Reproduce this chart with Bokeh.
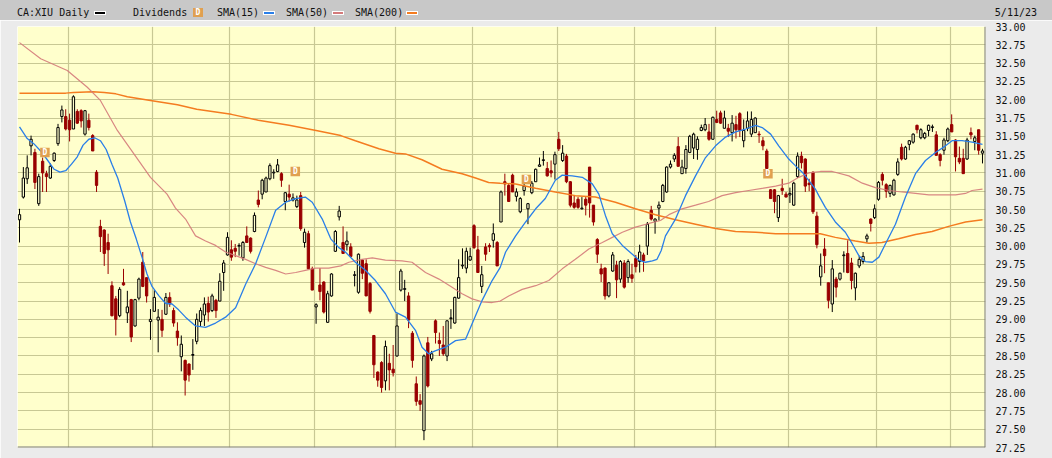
from bokeh.plotting import figure
from bokeh.models import Range1d, FixedTicker, PrintfTickFormatter, Div, Span
from bokeh.layouts import column
from bokeh.core.properties import value
from bokeh.embed import file_html
from bokeh.resources import INLINE

# ---------------- data (CA:XIU daily, 2022-05-12 .. 2023-05-11) ----------------
opens = [30.36, 30.67, 30.92, 31.37, 31.28, 30.58, 31.16, 30.99, 30.93, 31.17,
         31.40, 31.77, 31.77, 31.72, 31.60, 31.84, 31.85, 31.53, 31.72, 31.51,
         31.01, 30.27, 30.22, 30.05, 29.46, 29.28, 29.05, 29.50, 29.09, 29.27,
         28.91, 29.29, 29.78, 29.57, 28.97, 29.11, 28.99, 29.00, 29.07, 29.30,
         29.12, 28.84, 28.49, 28.44, 28.39, 28.51, 28.70, 28.97, 29.06, 29.22,
         29.12, 29.26, 29.25, 29.64, 29.88, 29.95, 29.97, 30.00, 29.84, 30.14,
         30.11, 30.20, 30.63, 30.71, 30.74, 30.92, 31.00, 31.02, 30.99, 30.61,
         30.71, 30.63, 30.54, 30.69, 30.05, 30.17, 29.69, 29.17, 29.47, 29.51,
         28.96, 29.32, 29.93, 30.40, 30.05, 30.02, 29.99, 29.60, 29.37, 29.81,
         29.76, 29.49, 28.78, 28.28, 28.41, 28.16, 28.40, 28.32, 28.50, 29.40,
         29.41, 29.32, 28.81, 28.12, 27.89, 27.48, 28.68, 28.46, 28.98, 28.71,
         28.65, 28.50, 29.01, 28.95, 29.29, 29.73, 29.70, 29.81, 30.28, 29.95,
         29.45, 29.99, 30.01, 30.08, 30.05, 30.33, 30.88, 30.83, 30.97, 30.68,
         30.47, 30.76, 30.51, 30.73, 30.88, 31.09, 31.17, 31.06, 31.03, 31.12,
         31.46, 31.17, 31.23, 30.88, 30.59, 30.64, 30.51, 30.64, 31.08, 30.56,
         30.09, 29.69, 29.70, 29.32, 29.66, 29.74, 29.55, 29.77, 29.57, 29.61,
         29.83, 29.79, 29.88, 30.00, 30.49, 30.34, 30.52, 30.61, 30.74, 31.08,
         31.19, 31.36, 30.99, 31.06, 31.28, 31.34, 31.32, 31.58, 31.59, 31.56,
         31.46, 31.73, 31.82, 31.61, 31.61, 31.55, 31.66, 31.81, 31.44, 31.61,
         31.53, 31.55, 31.53, 31.44, 31.30, 30.77, 30.77, 30.39, 30.79, 30.71,
         30.70, 30.56, 30.95, 31.23, 31.19, 30.86, 31.01, 30.41, 29.58, 29.96,
         29.50, 29.21, 29.55, 29.55, 29.87, 29.90, 29.77, 29.43, 29.73, 29.79,
         30.10, 30.37, 30.39, 30.64, 30.98, 30.84, 30.72, 30.70, 30.98, 31.35,
         31.19, 31.39, 31.42, 31.65, 31.48, 31.48, 31.58, 31.62, 31.52, 31.25,
         31.31, 31.44, 31.66, 31.45, 31.20, 31.20, 31.19, 31.55, 31.43, 31.59,
         31.27]
highs = [30.51, 31.08, 31.24, 31.51, 31.33, 30.99, 31.21, 31.03, 31.13, 31.28,
         31.67, 31.92, 31.87, 31.81, 32.06, 31.87, 31.87, 31.86, 31.81, 31.53,
         31.04, 30.36, 30.23, 30.17, 29.52, 29.32, 29.44, 29.69, 29.39, 29.28,
         29.28, 29.57, 29.92, 29.57, 29.14, 29.40, 29.14, 29.13, 29.36, 29.37,
         29.16, 28.96, 28.78, 28.45, 28.40, 28.73, 29.08, 29.16, 29.30, 29.31,
         29.35, 29.28, 29.63, 29.81, 30.19, 30.08, 30.03, 30.04, 30.07, 30.27,
         30.12, 30.46, 30.76, 30.92, 30.95, 31.13, 31.05, 31.19, 31.01, 30.74,
         30.84, 30.72, 30.69, 30.74, 30.24, 30.21, 29.72, 29.22, 29.70, 29.52,
         29.39, 29.63, 30.22, 30.55, 30.27, 30.20, 30.04, 29.66, 29.90, 29.82,
         29.82, 29.51, 28.78, 28.29, 28.43, 28.71, 28.53, 28.65, 29.08, 29.69,
         29.54, 29.37, 28.84, 28.22, 27.98, 28.52, 28.76, 28.57, 29.00, 28.82,
         28.91, 28.99, 29.14, 29.31, 29.82, 29.97, 29.98, 29.98, 30.30, 30.14,
         29.73, 30.04, 30.04, 30.31, 30.07, 30.76, 30.99, 30.86, 30.99, 30.79,
         30.67, 30.85, 30.59, 30.89, 31.06, 31.21, 31.30, 31.15, 31.17, 31.29,
         31.56, 31.38, 31.26, 30.89, 30.69, 30.67, 30.67, 30.67, 31.08, 30.56,
         30.11, 29.76, 29.71, 29.51, 29.92, 29.80, 29.81, 29.81, 29.82, 29.76,
         29.88, 30.02, 29.91, 30.33, 30.55, 30.38, 30.61, 30.85, 31.09, 31.17,
         31.27, 31.49, 31.18, 31.38, 31.52, 31.55, 31.50, 31.66, 31.75, 31.67,
         31.77, 31.85, 31.85, 31.85, 31.67, 31.79, 31.78, 31.83, 31.73, 31.84,
         31.84, 31.76, 31.57, 31.49, 31.33, 30.78, 30.78, 30.70, 30.92, 30.74,
         30.80, 30.88, 31.28, 31.29, 31.20, 30.92, 31.02, 30.47, 29.90, 30.11,
         29.50, 29.81, 29.58, 29.64, 29.93, 30.08, 29.84, 29.64, 29.87, 29.92,
         30.17, 30.38, 30.57, 30.89, 31.01, 30.86, 30.84, 30.92, 31.20, 31.40,
         31.37, 31.45, 31.54, 31.66, 31.61, 31.56, 31.66, 31.66, 31.57, 31.27,
         31.48, 31.62, 31.80, 31.46, 31.36, 31.33, 31.48, 31.62, 31.51, 31.59,
         31.33]
lows = [30.05, 30.65, 30.85, 31.24, 30.78, 30.55, 30.74, 30.74, 30.92, 31.15,
        31.37, 31.69, 31.58, 31.43, 31.60, 31.67, 31.62, 31.51, 31.58, 31.30,
        30.74, 29.92, 29.73, 29.62, 29.04, 28.78, 29.03, 29.46, 28.95, 28.69,
        28.90, 29.26, 29.44, 29.23, 28.72, 29.11, 28.55, 28.76, 29.06, 29.17,
        28.90, 28.64, 28.29, 27.96, 28.15, 28.31, 28.66, 28.91, 28.91, 28.97,
        29.10, 29.02, 29.25, 29.39, 29.87, 29.80, 29.85, 29.87, 29.80, 30.05,
        29.90, 30.19, 30.53, 30.64, 30.74, 30.90, 30.92, 31.01, 30.81, 30.49,
        30.61, 30.61, 30.52, 30.21, 29.98, 29.69, 29.40, 28.94, 29.26, 29.08,
        28.95, 29.31, 29.92, 30.35, 29.90, 29.94, 29.85, 29.45, 29.35, 29.55,
        29.32, 29.08, 28.20, 28.08, 28.00, 28.03, 28.03, 28.22, 28.49, 29.38,
        29.25, 28.88, 28.34, 27.82, 27.75, 27.35, 28.07, 28.43, 28.67, 28.50,
        28.50, 28.43, 28.87, 28.94, 29.28, 29.69, 29.63, 29.80, 29.96, 29.64,
        29.36, 29.80, 29.92, 29.98, 29.73, 30.33, 30.69, 30.61, 30.74, 30.61,
        30.45, 30.69, 30.30, 30.71, 30.88, 31.09, 31.10, 30.95, 30.94, 30.91,
        31.30, 31.15, 30.86, 30.53, 30.51, 30.51, 30.50, 30.42, 30.39, 30.28,
        29.77, 29.51, 29.27, 29.30, 29.65, 29.29, 29.50, 29.42, 29.50, 29.50,
        29.64, 29.64, 29.65, 29.88, 30.35, 30.17, 30.35, 30.60, 30.73, 31.06,
        31.15, 31.09, 30.99, 30.99, 31.27, 31.19, 31.18, 31.57, 31.57, 31.44,
        31.46, 31.68, 31.67, 31.61, 31.49, 31.43, 31.47, 31.49, 31.35, 31.57,
        31.49, 31.55, 31.41, 31.31, 31.06, 30.65, 30.45, 30.33, 30.70, 30.67,
        30.59, 30.55, 30.93, 31.06, 30.74, 30.75, 30.44, 29.97, 29.46, 29.63,
        29.15, 29.10, 29.30, 29.53, 29.64, 29.63, 29.41, 29.26, 29.70, 29.76,
        30.05, 30.20, 30.37, 30.62, 30.83, 30.66, 30.67, 30.69, 30.96, 31.17,
        31.18, 31.31, 31.40, 31.54, 31.46, 31.46, 31.50, 31.56, 31.24, 31.09,
        31.25, 31.42, 31.56, 31.02, 31.12, 30.99, 31.18, 31.46, 31.31, 31.25,
        31.13]
closes = [30.43, 30.93, 31.07, 31.46, 30.87, 30.95, 31.00, 30.95, 31.09, 31.27,
          31.62, 31.86, 31.60, 31.59, 32.04, 31.68, 31.71, 31.85, 31.62, 31.30,
          30.83, 30.13, 29.90, 29.95, 29.05, 29.00, 29.41, 29.47, 29.17, 28.76,
          29.27, 29.55, 29.45, 29.32, 29.00, 29.30, 29.03, 28.85, 29.30, 29.21,
          28.95, 28.75, 28.66, 28.17, 28.24, 28.52, 29.00, 29.12, 29.21, 29.10,
          29.32, 29.12, 29.52, 29.77, 30.12, 29.85, 29.93, 30.01, 30.05, 30.05,
          29.93, 30.42, 30.57, 30.90, 30.93, 31.10, 31.01, 31.11, 30.90, 30.73,
          30.67, 30.66, 30.63, 30.24, 30.19, 29.69, 29.40, 29.20, 29.38, 29.10,
          29.35, 29.62, 30.20, 30.48, 29.90, 30.07, 29.86, 29.61, 29.89, 29.63,
          29.32, 29.11, 28.38, 28.17, 28.07, 28.63, 28.31, 28.27, 28.91, 29.66,
          29.42, 28.99, 28.44, 27.88, 27.84, 28.50, 28.09, 28.53, 28.82, 28.67,
          28.53, 28.98, 29.02, 29.30, 29.57, 29.74, 29.93, 29.86, 29.98, 29.64,
          29.61, 29.89, 29.99, 30.17, 29.73, 30.74, 30.85, 30.61, 30.74, 30.74,
          30.65, 30.82, 30.58, 30.86, 31.05, 31.11, 31.18, 30.96, 31.00, 31.25,
          31.33, 31.27, 30.88, 30.56, 30.53, 30.53, 30.52, 30.56, 30.59, 30.33,
          29.89, 29.62, 29.32, 29.50, 29.88, 29.54, 29.79, 29.44, 29.79, 29.56,
          29.72, 29.92, 29.80, 30.30, 30.37, 30.37, 30.56, 30.83, 31.08, 31.12,
          31.24, 31.09, 31.08, 31.32, 31.50, 31.53, 31.46, 31.62, 31.66, 31.46,
          31.76, 31.69, 31.68, 31.75, 31.57, 31.68, 31.59, 31.58, 31.58, 31.71,
          31.73, 31.75, 31.52, 31.37, 31.06, 30.65, 30.61, 30.69, 30.76, 30.67,
          30.72, 30.86, 31.23, 31.14, 30.82, 30.84, 30.47, 30.02, 29.73, 29.87,
          29.26, 29.69, 29.44, 29.63, 29.88, 29.64, 29.53, 29.63, 29.82, 29.86,
          30.14, 30.31, 30.51, 30.87, 30.90, 30.75, 30.83, 30.90, 31.15, 31.19,
          31.35, 31.44, 31.53, 31.59, 31.59, 31.54, 31.65, 31.63, 31.24, 31.17,
          31.45, 31.60, 31.56, 31.22, 31.15, 30.99, 31.45, 31.52, 31.48, 31.31,
          31.30]

# trading-day index of the first session of each month (Jun 2022 .. May 2023)
month_start = [13, 35, 55, 77, 98, 118, 140, 160, 181, 200, 223, 242]

# moving averages (trading-day index, price)
sma15_x = [0, 2, 3.7, 5.5, 7.2, 9, 10.5, 12, 13.5, 15, 16.5, 18, 19.5, 21, 22.5, 24,
           25.5, 27.3, 28.8, 30.3, 31.8, 33.1, 34.4, 36.2, 37.9, 39.6, 41.3, 43.1,
           45.7, 48.3, 50.9, 53.5, 56.1, 58.7, 61.3, 63.9, 66.5, 69.1, 71.7, 74.2,
           76.0, 78.6, 80.8, 82.9, 84.6, 87.2, 89.8, 92.4, 95.0, 97.6, 100.2, 102.8,
           104.5, 106.2, 107.9, 110.6, 113.2, 115.8, 117.5, 120.1, 122.7, 124.8,
           126.2, 128.8, 131.4, 134, 136.5, 139.1, 140.9, 143.5, 146.1, 148.7, 150.4,
           152.1, 153.9, 156.5, 159.1, 160.8, 162.5, 164.3, 165.5, 166.6, 167.7,
           170.3, 172.9, 175.5, 178.1, 180.7, 183.3, 185.9, 188.5, 191.1, 192.8,
           195, 197.1, 199.7, 201.4, 203.2, 205.3, 206.6, 207.5, 209.2, 211.8, 214.4,
           216.2, 217.9, 219.6, 221.4, 223.1, 224.8, 227.4, 230, 232.6, 235.2, 237.8,
           240.4, 242.1, 244.7, 247.3, 250]
sma15_y = [31.63, 31.47, 31.40, 31.30, 31.18, 31.05, 31.01, 31.03, 31.12, 31.22,
           31.38, 31.46, 31.48, 31.44, 31.32, 31.12, 30.93, 30.62, 30.33, 30.10,
           29.85, 29.62, 29.45, 29.32, 29.22, 29.21, 29.13, 29.03, 28.91, 28.89,
           28.95, 29.03, 29.16, 29.48, 29.76, 30.12, 30.49, 30.60, 30.65, 30.67,
           30.60, 30.37, 30.10, 29.98, 29.92, 29.78, 29.67, 29.53, 29.35, 29.10,
           29.03, 28.85, 28.62, 28.53, 28.57, 28.62, 28.71, 28.73, 28.94, 29.26,
           29.53, 29.71, 29.92, 30.14, 30.33, 30.51, 30.65, 30.90, 30.97, 30.96,
           30.94, 30.85, 30.71, 30.42, 30.17, 30.01, 29.89, 29.81, 29.78, 29.80,
           29.82, 29.94, 30.14, 30.37, 30.69, 30.96, 31.21, 31.37, 31.49, 31.56,
           31.60, 31.65, 31.62, 31.53, 31.37, 31.19, 31.10, 31.01, 30.87, 30.78,
           30.69, 30.53, 30.33, 30.19, 30.03, 29.87, 29.79, 29.78, 29.85, 30.03,
           30.30, 30.67, 30.99, 31.17, 31.28, 31.37, 31.44, 31.44, 31.42, 31.39]

sma50_x = [0, 5.5, 12.4, 17.6, 21, 25.4, 29.7, 34, 38.3, 40.5, 43.1, 45.7, 48.3,
           50.9, 53.5, 56.1, 58.7, 61.3, 63.9, 66.5, 69.1, 71.7, 74.2, 76.9, 80.3,
           83.4, 85.5, 88.9, 91.6, 95, 99.3, 101.9, 105.4, 108.9, 112.3, 114.9,
           117.5, 120.1, 122.7, 124.8, 127, 130.5, 134, 137.4, 140.9, 144.3, 147.8,
           151.3, 153.9, 156.5, 159.9, 163.4, 166.4, 168.6, 172, 175.5, 178.9,
           182.4, 185.9, 189.3, 192.8, 196.3, 199.7, 202.3, 204.9, 207.9, 211,
           215.3, 218.8, 222.2, 225.7, 229.1, 232.6, 236.1, 239.5, 243, 245.6,
           247.3, 250]
sma50_y = [32.78, 32.56, 32.40, 32.17, 31.99, 31.58, 31.26, 30.94, 30.71, 30.52,
           30.37, 30.14, 30.07, 30.01, 29.92, 29.87, 29.82, 29.76, 29.71, 29.67,
           29.62, 29.64, 29.67, 29.70, 29.70, 29.73, 29.78, 29.82, 29.84, 29.81,
           29.80, 29.78, 29.64, 29.55, 29.44, 29.35, 29.28, 29.24, 29.23, 29.25,
           29.32, 29.41, 29.46, 29.53, 29.69, 29.82, 29.96, 30.05, 30.12, 30.19,
           30.26, 30.31, 30.35, 30.43, 30.51, 30.56, 30.61, 30.69, 30.73, 30.76,
           30.79, 30.82, 30.86, 30.94, 31.00, 31.02, 31.02, 30.96, 30.86, 30.80,
           30.76, 30.74, 30.72, 30.70, 30.70, 30.70, 30.72, 30.76, 30.78]

sma200_x = [0, 12, 14, 19, 22, 25, 28, 34, 41, 46, 55, 62, 70, 77, 83.4, 87.2, 93.3,
            97.6, 100.2, 104.5, 109.7, 114.9, 118.4, 121.8, 124.8, 128.8, 134, 139.1,
            144.3, 149.5, 154.7, 159.9, 165.1, 170.3, 175.5, 180.7, 185.9, 191.1,
            196.3, 201.4, 207.9, 211.8, 217, 220.5, 223.9, 228.2, 232.6, 236.9,
            241.2, 245.6, 250]
sma200_y = [32.09, 32.09, 32.10, 32.11, 32.10, 32.08, 32.04, 31.99, 31.93, 31.87,
            31.80, 31.72, 31.65, 31.58, 31.51, 31.44, 31.33, 31.27, 31.26, 31.18,
            31.05, 30.99, 30.93, 30.87, 30.86, 30.85, 30.79, 30.74, 30.69, 30.67,
            30.60, 30.51, 30.43, 30.36, 30.30, 30.24, 30.20, 30.19, 30.17, 30.17,
            30.17, 30.12, 30.07, 30.04, 30.05, 30.10, 30.16, 30.20, 30.27, 30.33,
            30.36]

# dividend markers (trading-day index, price level of the marker)
div_x = [6.6, 71.6, 131.6, 194.3]
div_y = [31.28, 31.02, 30.91, 30.99]

y_ticks = [27.25 + 0.25 * k for k in range(24)]

# legend entries of the header
ticker_label = "CA:XIU Daily"
div_label = "Dividends"
sma_labels = ["SMA(15)", "SMA(50)", "SMA(200)"]
date_label = "5/11/23"

# ---------------- styles ----------------
MONO = "DejaVu Sans Mono"
YELLOW = "#ffffcc"
RED = "#990000"
BLUE = "#2a7fe8"
PINK = "#d47a7a"
ORANGE = "#f47c20"
DIVC = "#e0a050"
GRID = "#c8c894"

# ---------------- header strip (HTML) ----------------
def txt(left, s):
    return ('<span style="position:absolute;left:%spx;top:8px;white-space:pre;">%s</span>'
            % (left, s))

def swatch(left, color):
    return ('<span style="position:absolute;left:%spx;top:11px;width:12px;height:4px;'
            'box-sizing:border-box;background:%s;border:1px solid #ffffff;"></span>'
            % (left, color))

hdr = ('<div style="position:relative;width:1052px;height:20px;background:#c8c8c8;'
       'font-family:\'DejaVu Sans Mono\',monospace;font-size:10px;line-height:10px;'
       'color:#111111;overflow:hidden;">'
       + txt(17, ticker_label) + swatch(94, "#000000")
       + txt(133, div_label)
       + '<span style="position:absolute;left:193px;top:8px;width:10px;height:9px;'
         'background:%s;color:#ffffff;font-size:8px;font-weight:bold;line-height:9px;'
         'text-align:center;">D</span>' % DIVC
       + txt(217, sma_labels[0]) + swatch(263, BLUE)
       + txt(286, sma_labels[1]) + swatch(332, PINK)
       + txt(355, sma_labels[2]) + swatch(406, ORANGE)
       + '<span style="position:absolute;right:15px;top:8px;">%s</span>' % date_label
       + '</div>')
header = Div(text=hdr, width=1052, height=20, margin=(0, 0, 0, 0))

# ---------------- main chart ----------------
x0, x1 = -0.52, 250.78
y0, y1 = 27.25, 33.0
p = figure(width=1052, height=438, x_range=Range1d(x0, x1),
           y_range=Range1d(y0, y1), x_axis_location=None, y_axis_location="right",
           output_backend="svg", toolbar_location=None,
           min_border_left=17, min_border_right=67, min_border_top=6, min_border_bottom=11)
p.background_fill_color = YELLOW
p.border_fill_color = "#ebebeb"
p.outline_line_color = None

p.xgrid.ticker = FixedTicker(ticks=[m - 0.4 for m in month_start])
p.xgrid.grid_line_color = GRID
p.xgrid.grid_line_width = 1.2
p.yaxis.ticker = FixedTicker(ticks=y_ticks)
p.yaxis.formatter = PrintfTickFormatter(format="%.2f")
p.ygrid.grid_line_color = GRID
p.ygrid.grid_line_width = 1.2
p.yaxis.axis_line_color = None
p.yaxis.major_tick_line_color = None
p.yaxis.minor_tick_line_color = None
p.yaxis.major_tick_out = 0
p.yaxis.major_tick_in = 0
p.yaxis.minor_tick_out = 0
p.yaxis.minor_tick_in = 0
p.yaxis.major_label_standoff = 10
p.yaxis.major_label_text_font = MONO
p.yaxis.major_label_text_font_size = "10px"
p.yaxis.major_label_text_color = "#111111"

# inset frame: light top/left edge, dark shadow bottom/right
p.add_layout(Span(location=y1, dimension="width", line_color="#ffffff", line_width=1))
p.add_layout(Span(location=x0, dimension="height", line_color="#ffffff", line_width=1))
p.add_layout(Span(location=y0, dimension="width", line_color="#7a7a7a", line_width=2))
p.add_layout(Span(location=x1, dimension="height", line_color="#7a7a7a", line_width=2))

idx = list(range(len(closes)))
up = [i for i in idx if closes[i] >= opens[i]]
dn = [i for i in idx if closes[i] < opens[i]]

# wicks
p.segment(x0=up, x1=up, y0=[lows[i] for i in up], y1=[highs[i] for i in up],
          line_color="#000000", line_width=1)
p.segment(x0=dn, x1=dn, y0=[lows[i] for i in dn], y1=[highs[i] for i in dn],
          line_color=RED, line_width=1)
# bodies
p.vbar(x=up, width=0.6, top=[closes[i] for i in up], bottom=[opens[i] for i in up],
       fill_color=YELLOW, line_color="#000000", line_width=1)
p.vbar(x=dn, width=0.6, top=[opens[i] for i in dn], bottom=[closes[i] for i in dn],
       fill_color=RED, line_color=RED, line_width=1)

# moving averages
p.line(sma200_x, sma200_y, line_color=ORANGE, line_width=1.5)
p.line(sma50_x, sma50_y, line_color=PINK, line_width=1.2, line_alpha=0.9)
p.line(sma15_x, sma15_y, line_color=BLUE, line_width=1.3)

# dividends
p.scatter(div_x, div_y, marker="square", size=9.5, fill_color=DIVC, line_color=None)
p.text(x=div_x, y=div_y, text=["D"] * len(div_x), text_font=value(MONO),
       text_font_size="8px", text_font_style="bold", text_color="white",
       text_align="center", text_baseline="middle")

layout = column(header, p, spacing=0)
open("out.html", "w").write(file_html(layout, INLINE))
